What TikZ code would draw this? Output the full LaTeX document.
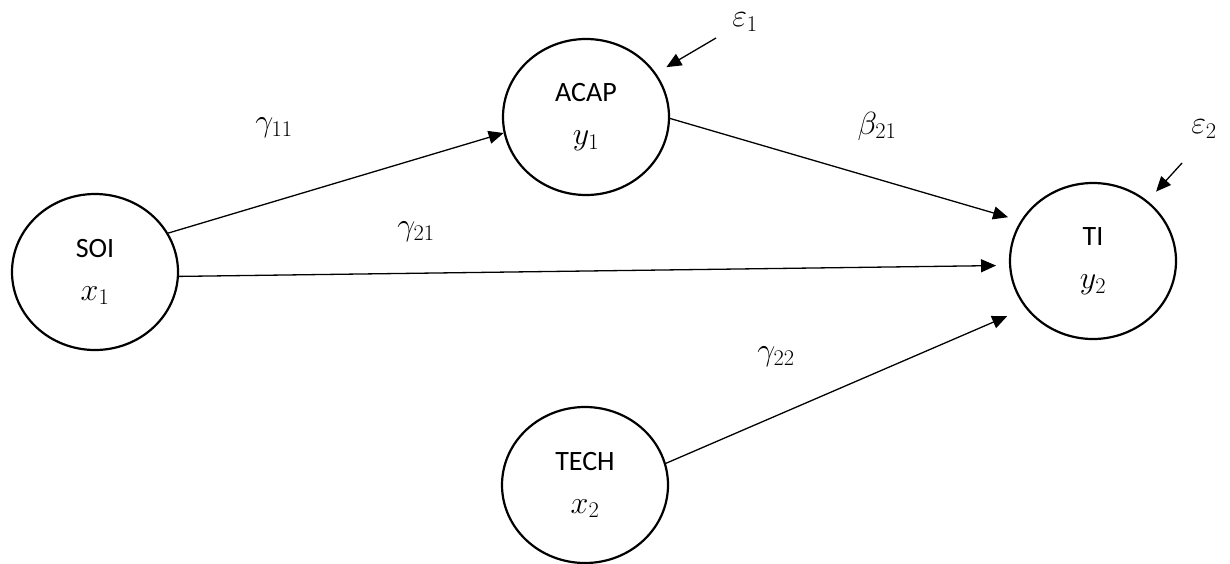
\RequirePackage{fix-cm}
\documentclass[tikz,border=0pt]{standalone}
\usepackage{fontspec}
\setmainfont{Carlito}
\usetikzlibrary{shapes.geometric,arrows.meta}

% symbols are set a little larger than the construct names
\newcommand{\sym}[1]{{\fontsize{32}{43}\selectfont$#1$}}

\tikzset{
  construct/.style={ellipse, draw, line width=2.2pt, minimum width=166pt,
    minimum height=156pt, inner sep=0pt, align=center,
    font=\fontsize{28}{43}\selectfont},
  path/.style={line width=1.3pt, -{Triangle[length=15pt,width=13pt]}},
  coef/.style={inner sep=0pt}
}

\begin{document}
\begin{tikzpicture}[x=1pt, y=-1pt]
  \useasboundingbox (0,0) rectangle (1230,563);

  % latent constructs
  \node[construct] (soi)  at (95,272)   {SOI\\\sym{x_1}};
  \node[construct] (acap) at (586,117)  {ACAP\\\sym{y_1}};
  \node[construct] (ti)   at (1093,261) {TI\\\sym{y_2}};
  \node[construct] (tech) at (585,485)  {TECH\\\sym{x_2}};

  % disturbance terms
  \coordinate (d1) at (716,38);
  \coordinate (d2) at (1182,163);
  \node[coef] (eps1) at (745,22)   {\sym{\varepsilon_1}};
  \node[coef] (eps2) at (1204,129) {\sym{\varepsilon_2}};

  % structural paths
  \draw[path] (soi.28)  -- (acap.191);
  \draw[path, shorten >=13pt] (soi.-3.4) -- (ti.183);
  \draw[path, shorten >=13pt] (acap.-1) -- (ti.151.8);
  \draw[path, shorten >=20pt] (tech.15.5) -- (ti.215.4);
  \draw[path, shorten >=12pt] (d1) -- (acap.32);
  \draw[path, shorten >=12.5pt] (d2) -- (ti);

  % path coefficients
  \node[coef] (g11) at (274,128) {\sym{\gamma_{11}}};
  \node[coef] (b21) at (877,126) {\sym{\beta_{21}}};
  \node[coef] (g21) at (416,232) {\sym{\gamma_{21}}};
  \node[coef] (g22) at (776,357) {\sym{\gamma_{22}}};
\end{tikzpicture}
\end{document}
